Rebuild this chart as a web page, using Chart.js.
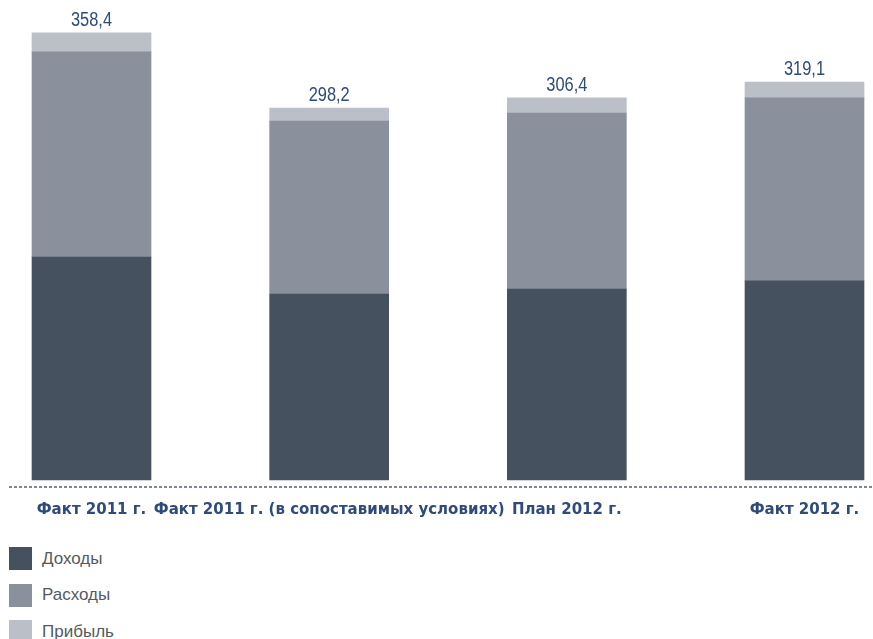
<!DOCTYPE html>
<html lang="ru">
  <head>
    <meta charset="UTF-8" />
    <meta name="viewport" content="width=device-width, initial-scale=1.0" />
    <title>Доходы, расходы и прибыль</title>
    <script src="https://cdn.jsdelivr.net/npm/chart.js"></script>
    <style>
      body { margin: 0; background: #fff; }
      #wrap { position: relative; width: 873px; height: 530px; }
      #legend { position: absolute; left: 9px; top: 547px; margin: 0; padding: 0; list-style: none;
        font-family: 'Liberation Sans', Arial, sans-serif; font-size: 17px; color: #555a60; }
      #legend li { display: flex; align-items: center; height: 23px; margin-bottom: 13.5px; }
      #legend span.box { width: 23px; height: 23px; margin-right: 10px; display: inline-block; }
    </style>
  </head>
  <body>
    <div id="wrap"><canvas id="financeChart"></canvas></div>
    <ul id="legend"></ul>
    <script>
      const categories = [
        'Факт 2011 г.',
        'Факт 2011 г. (в сопоставимых условиях)',
        'План 2012 г.',
        'Факт 2012 г.',
      ];
      const incomeValues = [178.8, 149.1, 153.1, 159.6];
      const expenseValues = [164.4, 138.7, 141.1, 146.7];
      const profitValues = [15.2, 10.4, 12.2, 12.8];
      const totalLabels = ['358,4', '298,2', '306,4', '319,1'];

      // totals above the top segment of each column (narrowed, like a condensed face)
      const totalsPlugin = {
        id: 'totals',
        afterDatasetsDraw: (chart) => {
          const meta = chart.getDatasetMeta(chart.data.datasets.length - 1);
          const ctx = chart.ctx;
          meta.data.forEach((bar, i) => {
            ctx.save();
            ctx.translate(bar.x, bar.y - 7);
            ctx.scale(0.82, 1);
            ctx.font = '20px "Liberation Sans", sans-serif';
            ctx.fillStyle = '#2f4b7c';
            ctx.textAlign = 'center';
            ctx.textBaseline = 'alphabetic';
            ctx.fillText(totalLabels[i], 0, 0);
            ctx.restore();
          });
        },
      };

      // dotted base line under the columns
      const baseLinePlugin = {
        id: 'baseLine',
        afterDraw: (chart) => {
          const ctx = chart.ctx;
          const y = chart.scales.x.top + 7;
          ctx.save();
          ctx.strokeStyle = '#7f8591';
          ctx.lineWidth = 2;
          ctx.setLineDash([3, 2]);
          ctx.beginPath();
          ctx.moveTo(9, y);
          ctx.lineTo(chart.width, y);
          ctx.stroke();
          ctx.restore();
        },
      };

      const chart = new Chart(document.getElementById('financeChart'), {
        type: 'bar',
        data: {
          labels: categories,
          datasets: [
            { label: 'Доходы', data: incomeValues, backgroundColor: '#46515f' },
            { label: 'Расходы', data: expenseValues, backgroundColor: '#8a909c' },
            { label: 'Прибыль', data: profitValues, backgroundColor: '#bbbfc8' },
          ],
        },
        options: {
          responsive: true,
          maintainAspectRatio: false,
          animation: false,
          clip: false,
          datasets: { bar: { barThickness: 119, borderWidth: 0 } },
          layout: { padding: { left: 91.5, right: 68.5, top: 6, bottom: 0 } },
          plugins: {
            legend: { display: false },
            tooltip: { enabled: false },
          },
          scales: {
            x: {
              stacked: true,
              offset: false,
              border: { display: false },
              grid: { display: false, drawTicks: false },
              ticks: {
                autoSkip: false,
                maxRotation: 0,
                minRotation: 0,
                padding: 21,
                color: '#2f4b7c',
                font: { family: '"DejaVu Sans", sans-serif', size: 15, weight: 'bold' },
              },
              afterFit: (scale) => {
                scale.height = 50;
                // labels may spill past the plot edges, keep the plot width fixed
                scale.paddingLeft = 0;
                scale.paddingRight = 0;
              },
            },
            y: {
              stacked: true,
              display: false,
              min: 0,
              max: 380,
            },
          },
        },
        plugins: [totalsPlugin, baseLinePlugin],
      });

      // legend as a vertical list, built from the chart's datasets
      const legendEl = document.getElementById('legend');
      chart.data.datasets.forEach((ds) => {
        const li = document.createElement('li');
        const box = document.createElement('span');
        box.className = 'box';
        box.style.background = ds.backgroundColor;
        li.appendChild(box);
        li.appendChild(document.createTextNode(ds.label));
        legendEl.appendChild(li);
      });
    </script>
  </body>
</html>
